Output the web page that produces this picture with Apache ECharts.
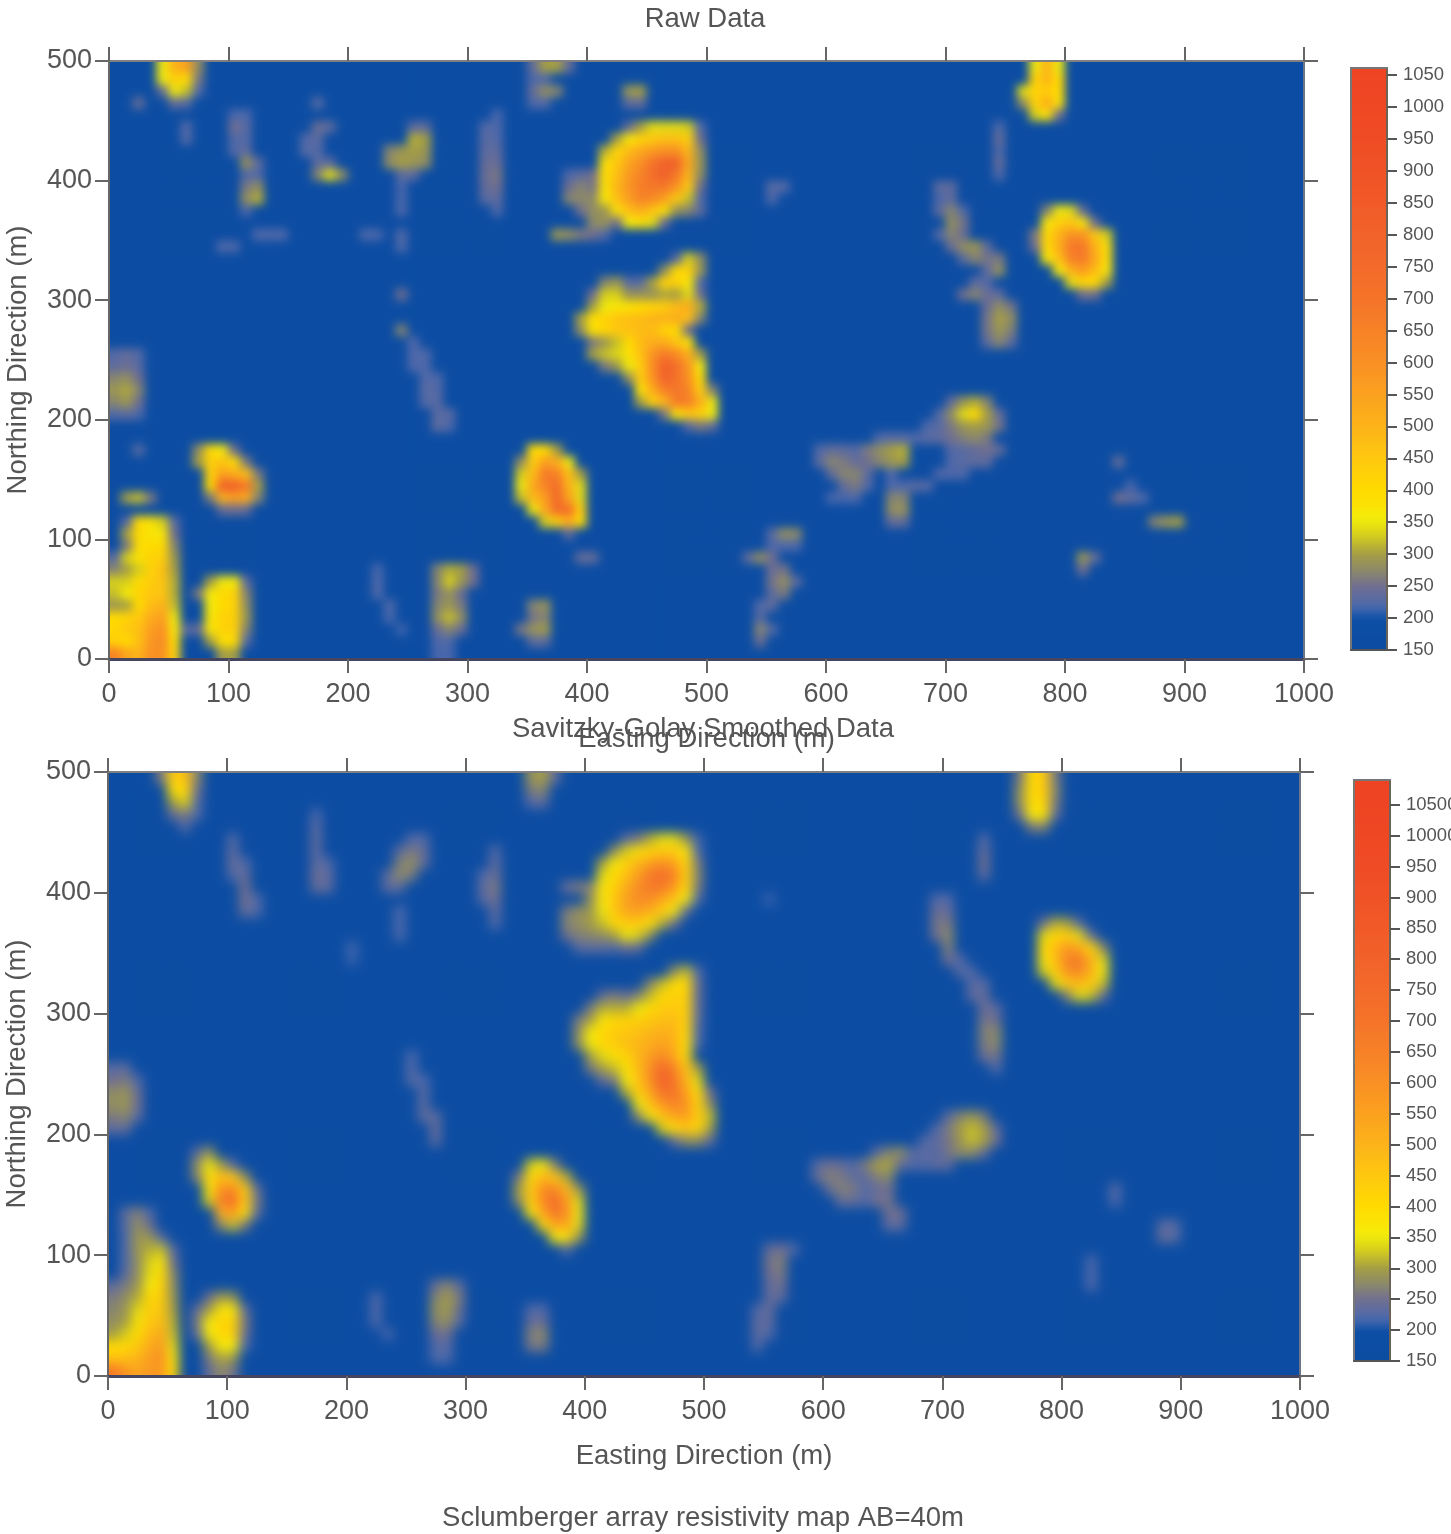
<!DOCTYPE html>
<html>
<head>
<meta charset="utf-8">
<title>Resistivity maps</title>
<script src="https://cdn.jsdelivr.net/npm/echarts@6/dist/echarts.min.js"></script>
<style>
  html, body { margin: 0; padding: 0; background: #fff; width: 1451px; height: 1534px; overflow: hidden; }
  .clip { position: absolute; overflow: hidden; background: #0b4ea3; }
  .heat { position: absolute; }
  #axes { position: absolute; left: 0; top: 0; width: 1451px; height: 1534px; }
</style>
</head>
<body>
<div class="clip" id="clipRaw"><div class="heat" id="heatRaw"></div></div>
<div class="clip" id="clipSmooth"><div class="heat" id="heatSmooth"></div></div>
<div id="axes"></div>
<script>
  // values, 10 m cells: [north, first east, value, value, ...]
  // anything not listed is background
  var backgroundValue = 170;

  var rawPatches = [
    [490,40,350,500,550,280],[480,40,350,430,400,260],[470,40,240,350,320,225],[460,50,240,230],[460,20,240],
    [440,60,225],[430,60,225],
    [450,100,220,220],[440,100,250,230],[430,100,225,225],[420,100,225,235],[410,110,285,235],[400,110,225,225],
    [390,110,260,280],[380,110,280,310],[370,110,222],[350,120,222,222,222],[340,90,222,222],
    [460,170,228],[440,170,245,235],[430,160,225,232],[420,160,228,225],[410,170,235,235],[400,170,270,340,280],
    [440,250,235,235],[430,250,310,300],[420,230,270,290,300,290],[410,230,280,300,290,280],[400,240,235,235],
    [390,240,218],[380,240,218],[370,240,222],[350,210,222,218],[350,240,225],[340,240,222],
    [300,240,250],[270,240,270],
    [260,250,222],[250,250,222,222],[240,250,222,222],[230,260,226,222],[220,260,230,226],[210,260,226,230],[200,270,230,230],[190,270,235,222],
    [250,0,226,240,226],[240,0,235,245,230],[230,0,270,280,250],[220,0,290,305,270],[210,0,270,290,250],[200,0,226,235,222],[170,20,228],
    [130,10,300,320,260],
    [110,10,230,400,380,330,230],[100,10,300,400,370,370,250],[90,10,260,390,400,400,270],[80,0,230,330,380,420,430,290],
    [70,0,270,300,330,420,470,300],[60,0,330,330,400,440,460,310],[50,0,320,360,420,450,460,310],[40,0,290,300,400,480,500,320],
    [30,0,400,420,450,520,560,350],[20,0,410,450,470,560,600,370,230],[10,0,430,400,470,580,620,390],[0,0,650,540,500,600,600,420],
    [170,70,280,400,360,250],[160,70,300,430,460,400,260],[150,80,420,550,520,470,260],[140,80,400,800,800,680,300],[130,80,260,500,560,520,270],[120,90,240,250,240],
    [60,80,300,350,360,235],[50,70,260,360,400,420,270],[40,80,360,400,420,280],[30,80,370,420,430,290],[20,70,240,370,420,430,270],[10,80,300,380,400,230],[0,90,300,300],
    [70,270,270,310,300,250],[60,270,270,330,290,250],[50,270,260,285,245],[40,270,270,290,260],[30,270,280,320,280],[20,270,245,270,245],[10,270,222,222],[0,270,218,218],
    [70,220,218],[60,220,222],[50,220,222],[40,230,222],[30,230,218],[20,240,214],
    [40,350,270,285],[30,350,255,270],[20,340,255,285,295],[10,350,235,235],[80,390,240,240],
    [170,350,400,400,300],[160,340,280,440,560,520,350],[150,340,330,480,680,650,470,300],[140,340,350,530,640,740,500,340],
    [130,340,320,480,560,760,540,340],[120,350,350,530,740,720,430],[110,360,330,430,520,400],[100,380,235],
    [440,430,240,300,340,340,340,330,225],[430,420,300,370,420,450,470,470,430,250],[420,410,310,410,480,530,570,600,600,490,280],
    [410,410,380,450,540,600,700,800,800,530,290],[400,380,222,235,250,390,470,570,640,730,800,680,500,280],
    [390,380,250,270,255,380,490,580,660,680,680,590,440,250],[380,380,270,275,275,370,470,560,640,620,550,440,320,225],
    [370,390,250,280,290,380,470,510,460,380,285,270,235],[360,400,275,285,250,360,380,340,245],[350,370,290,280,260,250,226],
    [490,350,240,300,300,240],[480,350,222,222],[470,350,240,280,270],[460,350,222,226],[470,430,290,300],[460,430,235,240],
    [450,320,218],[440,310,226,222],[430,310,230,226],[420,310,235,235],[410,310,240,245],[400,310,245,258],[390,310,240,250],[380,310,230,235],[370,320,222],
    [390,550,230,226],[380,550,222],
    [330,470,230,330,280],[320,460,280,400,430,290],[310,410,270,290,230,230,300,420,430,370,225],
    [300,400,250,330,330,285,285,285,305,300,340,250],[290,400,300,350,370,380,400,420,440,480,520,310],
    [280,390,300,390,420,460,470,480,500,500,520,470,270],[270,390,280,380,420,450,470,480,480,420,400,250],
    [260,400,260,290,320,400,480,520,520,460,380],[250,400,300,320,335,380,470,590,680,620,510,300],
    [240,410,260,290,350,440,610,820,720,580,360],[230,430,280,440,590,800,700,600,400],[220,440,380,520,650,690,640,440,270],
    [210,440,300,430,500,670,660,510,350],[200,460,260,380,450,430,350],[190,480,230,260,240],
    [390,690,235,235],[380,690,222,235],[370,690,235,270,226],[360,700,280,255],[350,690,226,270,245],[340,700,245,280,290,235],
    [330,710,235,270,255,260],[320,730,235,285],[310,720,235,226],[300,710,250,270,245,235],[290,730,245,280,255],[280,730,255,300,280],[270,730,255,290,265],[260,730,235,270,235],
    [440,740,222],[430,740,240],[420,740,226],[410,740,240],[400,740,222],
    [490,770,350,500,350],[480,770,420,500,400],[470,760,340,420,440,400],[460,760,280,420,520,380],[450,770,330,380,250],
    [370,780,270,350,340,240],[360,780,370,430,460,370,250],[350,770,260,410,500,590,590,450,330],[340,770,250,400,510,680,690,510,380],
    [330,780,370,470,650,670,540,390],[320,790,360,500,570,480,370],[310,800,340,410,400,300],[300,810,250,250],
    [210,700,240,290,310,270],[200,690,225,280,340,400,300,240],[190,680,222,230,260,290,300,290,255],[180,670,222,230,235,250,265,275,260],
    [170,700,226,230,240,250,240],[160,700,222,230,235,235],[150,690,222,222,222],
    [180,640,222,230,226],[170,590,226,240,235,226,260,280,300,310],[160,590,235,270,260,240,250,270,290,300],
    [150,600,240,270,270,235],[140,610,240,260,226],[130,600,218,218,222],
    [130,650,270,270],[120,650,280,285],[110,650,240,240],[140,650,222,222,230,226],[150,650,222],
    [100,550,230,280,275],[90,550,222,222,222],[80,530,235,280,250],[70,550,245,255],[60,550,255,280,235],[50,550,235,260],[40,540,226,235],[30,540,230],[20,540,270,226],[10,540,245],
    [160,840,240],[130,840,250,235,222],[140,850,218],[110,870,270,290,300],[80,810,290,240],[70,810,250]
  ];

  var smoothPatches = [
    [490,40,260,430,470,270],[480,50,390,410,250],[470,50,300,330,230],[460,50,240,260,225],[450,60,225],
    [440,100,225],[430,100,235],[420,100,240,225],[410,100,225,240],[400,110,250],[390,110,250,225],[380,110,240,225],
    [460,170,220],[450,170,230],[440,170,235],[430,170,235],[420,170,235,225],[410,170,245,235],[400,170,240,235],
    [440,250,225,225],[430,240,235,260,240],[420,240,265,280,240],[410,230,235,275,260],[400,230,235,235],
    [380,240,220],[370,240,220],[360,240,220],[350,200,215],[340,200,212],
    [430,320,225],[420,320,235],[410,310,225,245],[400,310,235,260],[390,310,230,250],[380,320,235],[370,320,225],
    [490,350,285,300,240],[480,350,260,270],[470,350,225,235],
    [440,430,235,260,310,340,340,290,215],[430,420,280,330,380,420,440,440,370,225],[420,410,300,360,430,490,550,600,550,410,260],
    [410,410,340,400,470,560,680,730,660,430,270],[400,380,245,260,270,370,430,520,610,670,670,580,410,260],
    [390,400,280,370,450,550,610,610,540,460,350,225],[380,380,260,280,290,350,450,530,550,510,440,350,240],
    [370,380,270,280,300,320,400,440,440,380,310,250],[360,380,250,265,270,280,300,350,330,280],[350,390,230,235,235,225,250,240],
    [330,470,280,320,225],[320,450,270,320,400,400,240],[310,410,240,260,240,270,320,400,430,420,240],
    [300,400,260,310,310,310,350,400,440,450,420,240],[290,390,260,300,370,410,420,430,450,470,480,420,235],
    [280,390,280,360,410,440,450,470,490,510,500,410,225],[270,390,280,350,410,440,470,490,520,550,510,390,220],
    [260,400,300,340,380,420,490,560,620,540,400],[250,400,260,300,320,380,480,600,760,650,460,300],
    [240,410,240,260,360,460,600,800,700,500,340],[230,430,310,420,540,700,700,560,390,250],[220,440,350,460,580,640,600,420,280],
    [210,440,270,370,460,540,560,440,320],[200,460,330,400,450,410,300],[190,470,240,280,280,240],
    [370,780,250,310,300,230],[360,780,340,410,430,340,240],[350,780,400,480,580,520,400,270],[340,780,370,480,640,680,500,340],
    [330,780,330,430,600,620,500,360],[320,790,340,440,480,430,320],[310,800,270,340,320,240],
    [490,760,260,400,450,260],[480,760,280,400,440,270],[470,760,280,390,420,260],[460,760,250,360,380,240],[450,770,260,270],
    [440,730,225],[430,730,240],[420,730,250],[410,730,235],
    [390,690,225,225],[380,690,245,240],[370,690,255,260],[360,690,250,275],[350,700,265],[340,700,250,225],[330,710,230,225],
    [320,720,230,230],[310,720,235,240],[300,730,245,235],[290,730,255,250],[280,730,265,275],[270,730,260,275],[260,730,245,255],[250,740,225],
    [210,700,235,270,290,260],[200,690,225,260,300,320,300,240],[190,680,225,235,255,290,320,300,250],[180,640,235,270,280,225,235,225,255,275,275,240],
    [170,590,230,250,240,225,260,300,305,240,225,225,235,235],[160,590,240,265,260,235,235,265,275],
    [150,600,240,265,260,225,240,250],[140,610,240,240,225,250,255],[130,650,250,250],[120,650,235,235],
    [100,550,240,250,225],[90,550,255,265],[80,550,250,260],[70,550,240,250],[60,550,240,235],[50,540,225,240],[40,540,235,235],[30,540,235,225],[20,540,225],
    [50,350,225,225],[40,350,240,245],[30,350,265,275],[20,350,255,260],
    [170,350,330,360,270],[160,340,260,390,490,450,310],[150,340,300,440,610,640,480,290],[140,340,280,430,620,750,570,340],
    [130,350,370,530,700,600,350],[120,360,380,530,530,340],[110,370,360,380,290],[100,380,230],
    [250,0,230,235],[240,0,250,260,225],[230,0,275,285,245],[220,0,280,290,250],[210,0,260,270,235],[200,0,235,240],
    [260,250,220],[250,250,225],[240,250,228,220],[230,260,230],[220,260,232],[210,260,235,235],[200,270,240],[190,270,235],
    [180,70,235,290],[170,70,280,350,300,230],[160,70,270,390,470,440,280],[150,80,370,600,620,430,240],[140,80,330,650,760,450,260],
    [130,90,500,560,380,240],[120,90,270,320,260],
    [60,80,250,300,290],[50,70,240,300,370,370,240],[40,70,260,360,420,420,260],[30,70,240,360,410,420,250],[20,80,300,360,360,225],[10,80,260,305,295],[0,80,240,275,255],
    [70,270,245,270,235],[60,270,270,295,260],[50,270,280,295,245],[40,270,270,280,230],[30,270,245,250],[20,270,225,230],[10,270,222,222],
    [60,220,222],[50,220,225],[40,220,222],[30,230,218],
    [130,10,235,265,225],[120,10,230,280,250],[110,10,225,290,290,230],[100,10,225,290,310,320,230],[90,10,225,280,330,370,250],[80,10,235,280,340,400,270],
    [70,0,235,260,290,360,420,280],[60,0,260,280,310,400,440,290],[50,0,270,290,340,430,450,300],[40,0,280,300,370,450,470,310],
    [30,0,300,330,400,480,520,320],[20,0,400,410,450,520,560,340],[10,0,460,470,490,560,600,370],[0,0,680,580,540,570,580,400],
    [150,840,228],[140,840,222],[120,880,232,228],[110,880,240,230],[90,820,220],[80,820,222],[70,820,222],[390,550,212]
  ];

  var colorValues = [150, 200, 215, 250, 275, 300, 330, 355, 375, 400, 450, 500, 550, 600, 650, 700, 750, 800, 850, 900, 950, 1050, 1100];
  var colorHexes = ['#0b4ca1', '#0d4fa6', '#4768b0', '#716f90', '#8d8a68', '#a59e45', '#d6cf1c', '#f4ee0a', '#fbe304', '#ffdb00', '#fec80f', '#fcb319', '#fba11f', '#f99024', '#f78127', '#f57329', '#f36a2a', '#f2622a', '#f15a28', '#f05226', '#ef4c25', '#ee4423', '#ee4423'];

  var tickValues = [0, 100, 200, 300, 400, 500, 600, 700, 800, 900, 1000];
  var barTicks = [150, 200, 250, 300, 350, 400, 450, 500, 550, 600, 650, 700, 750, 800, 850, 900, 950, 1000, 1050];
  var barLabelsTop = ['150', '200', '250', '300', '350', '400', '450', '500', '550', '600', '650', '700', '750', '800', '850', '900', '950', '1000', '1050'];
  var barLabelsBottom = ['150', '200', '250', '300', '350', '400', '450', '500', '550', '600', '650', '700', '750', '800', '850', '900', '950', '10000', '10500'];

  var textColor = '#555';
  var fontName = '"Liberation Sans", Arial, sans-serif';

  // makes the colour list for visualMap, even steps from 150 up to top
  function colorRamp(top) {
    var out = [];
    for (var v = 150; v <= top; v += 10) {
      var i = 0;
      while (i < colorValues.length - 2 && v > colorValues[i + 1]) i++;
      var t = (v - colorValues[i]) / (colorValues[i + 1] - colorValues[i]);
      out.push(echarts.color.lerp(Math.min(t, 1), [colorHexes[i], colorHexes[i + 1]]));
    }
    return out;
  }

  // one heat layer, blurred with css, sits under the axes layer
  function drawHeat(clipId, heatId, patches, box, blurPx) {
    var pad = 2;
    var cols = 100, rows = 50;
    var cellW = box.w / cols, cellH = box.h / rows;
    var clip = document.getElementById(clipId);
    clip.style.left = box.x + 'px';
    clip.style.top = box.y + 'px';
    clip.style.width = box.w + 'px';
    clip.style.height = box.h + 'px';
    var node = document.getElementById(heatId);
    node.style.left = (-pad * cellW) + 'px';
    node.style.top = (-pad * cellH) + 'px';
    node.style.width = ((cols + pad * 2) * cellW) + 'px';
    node.style.height = ((rows + pad * 2) * cellH) + 'px';
    node.style.filter = 'blur(' + blurPx + 'px)';

    var grid = [];
    for (var r = 0; r < rows; r++) {
      grid.push([]);
      for (var c = 0; c < cols; c++) grid[r].push(backgroundValue);
    }
    patches.forEach(function (p) {
      var row = p[0] / 10;
      var first = p[1] / 10;
      for (var k = 2; k < p.length; k++) grid[row][first + k - 2] = p[k];
    });

    // the padding rows and columns repeat the edge so the blur does not fade at the frame
    var eastCats = [], northCats = [], data = [];
    for (var i = -pad; i < cols + pad; i++) eastCats.push((i * 10 + 5) + '');
    for (var j = -pad; j < rows + pad; j++) northCats.push((j * 10 + 5) + '');
    for (var y = -pad; y < rows + pad; y++) {
      for (var x = -pad; x < cols + pad; x++) {
        var rr = Math.max(0, Math.min(rows - 1, y));
        var cc = Math.max(0, Math.min(cols - 1, x));
        data.push([x + pad, y + pad, grid[rr][cc]]);
      }
    }

    var chart = echarts.init(node, null, { renderer: 'canvas' });
    chart.setOption({
      animation: false,
      grid: { left: 0, right: 0, top: 0, bottom: 0, outerBoundsMode: 'none' },
      xAxis: { type: 'category', data: eastCats, show: false },
      yAxis: { type: 'category', data: northCats, show: false },
      visualMap: { show: false, min: 150, max: 1100, inRange: { color: colorRamp(1100) } },
      series: [{ type: 'heatmap', data: data, progressive: 0, itemStyle: { borderWidth: 0 } }]
    });
  }

  var rawBox = { x: 109, y: 61, w: 1195, h: 598 };
  var smoothBox = { x: 108, y: 772, w: 1192, h: 604 };
  var barTopBox = { x: 1351, y: 68, w: 36, h: 582, max: 1061 };
  var barBottomBox = { x: 1354, y: 780, w: 36, h: 581, max: 1090 };

  drawHeat('clipRaw', 'heatRaw', rawPatches, rawBox, 5);
  drawHeat('clipSmooth', 'heatSmooth', smoothPatches, smoothBox, 6);

  function lineStyle(color, w) {
    return { show: true, onZero: false, lineStyle: { color: color, width: w } };
  }

  var grids = [], xAxes = [], yAxes = [];

  function addPanel(box) {
    var g = grids.length;
    grids.push({ left: box.x, top: box.y, width: box.w, height: box.h, outerBoundsMode: 'none' });
    var ticks = { show: true, inside: false, length: 14, lineStyle: { color: '#666', width: 2 } };
    var label = { color: textColor, fontFamily: fontName, fontSize: 27 };
    xAxes.push({
      gridIndex: g, type: 'value', position: 'bottom', min: 0, max: 1000, interval: 100,
      axisLine: lineStyle('#45455f', 3), axisTick: ticks, splitLine: { show: false },
      axisLabel: Object.assign({ margin: 22, formatter: function (v) { return tickValues.indexOf(v) >= 0 ? v : ''; } }, label),
      name: 'Easting Direction (m)', nameLocation: 'middle', nameGap: 66,
      nameTextStyle: { color: textColor, fontFamily: fontName, fontSize: 27.5 }
    });
    xAxes.push({
      gridIndex: g, type: 'value', position: 'top', min: 0, max: 1000, interval: 100,
      axisLine: lineStyle('#808080', 2), axisTick: ticks, axisLabel: { show: false }, splitLine: { show: false }
    });
    yAxes.push({
      gridIndex: g, type: 'value', position: 'left', min: 0, max: 500, interval: 100,
      axisLine: lineStyle('#666', 2), axisTick: ticks, splitLine: { show: false },
      axisLabel: Object.assign({ margin: 17 }, label),
      name: 'Northing Direction (m)', nameLocation: 'middle', nameGap: 77, nameRotate: 90,
      nameTextStyle: { color: textColor, fontFamily: fontName, fontSize: 27.5 }
    });
    yAxes.push({
      gridIndex: g, type: 'value', position: 'right', min: 0, max: 500, interval: 100,
      axisLine: lineStyle('#6d7488', 2), axisTick: ticks, axisLabel: { show: false }, splitLine: { show: false }
    });
  }

  function addColorBar(box, labels) {
    var g = grids.length;
    grids.push({ left: box.x, top: box.y, width: box.w, height: box.h, outerBoundsMode: 'none' });
    ['bottom', 'top'].forEach(function (pos) {
      xAxes.push({
        gridIndex: g, type: 'value', position: pos, min: 0, max: 1, z: 5,
        axisLine: lineStyle(pos == 'top' ? '#777' : '#555', 2),
        axisTick: { show: false }, axisLabel: { show: false }, splitLine: { show: false }
      });
    });
    yAxes.push({
      gridIndex: g, type: 'value', position: 'left', min: 150, max: box.max, z: 5,
      axisLine: lineStyle('#777', 2), axisTick: { show: false }, axisLabel: { show: false }, splitLine: { show: false }
    });
    yAxes.push({
      gridIndex: g, type: 'value', position: 'right', min: 150, max: box.max, z: 5,
      axisLine: lineStyle('#6b6258', 2),
      axisTick: { show: true, length: 10, customValues: barTicks, lineStyle: { color: '#555', width: 2 } },
      axisLabel: {
        show: true, margin: 16, color: textColor, fontFamily: fontName, fontSize: 18.5,
        customValues: barTicks,
        formatter: function (v) { return labels[barTicks.indexOf(v)]; }
      },
      splitLine: { show: false }
    });
  }

  addPanel(rawBox);
  addPanel(smoothBox);
  addColorBar(barTopBox, barLabelsTop);
  addColorBar(barBottomBox, barLabelsBottom);

  function barMap(box) {
    return {
      show: true, type: 'continuous', seriesIndex: [], min: 150, max: box.max,
      left: box.x, top: box.y, itemWidth: box.w, itemHeight: box.h, padding: 0,
      calculable: false, hoverLink: false, text: null, z: 1,
      inRange: { color: colorRamp(box.max) }
    };
  }

  function titleAt(text, x, y) {
    return {
      text: text, left: x, top: y, textAlign: 'center', padding: 0,
      textStyle: { color: textColor, fontFamily: fontName, fontSize: 27.5, fontWeight: 'normal' }
    };
  }

  var myCharts = echarts.init(document.getElementById('axes'));
  myCharts.setOption({
    animation: false,
    title: [
      titleAt('Raw Data', 705, 5),
      titleAt('Savitzky-Golay Smoothed Data', 703, 715),
      titleAt('Sclumberger array resistivity map AB=40m', 703, 1504)
    ],
    grid: grids,
    xAxis: xAxes,
    yAxis: yAxes,
    visualMap: [barMap(barTopBox), barMap(barBottomBox)],
    series: []
  });
</script>
</body>
</html>
